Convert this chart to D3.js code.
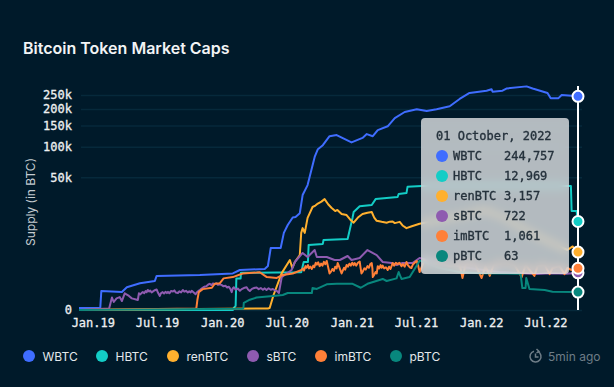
<!DOCTYPE html>
<html>
<head>
<meta charset="utf-8">
<script src="https://cdn.jsdelivr.net/npm/d3@7"></script>
<style>
  html, body { margin: 0; padding: 0; background: #001a2a; overflow: hidden; }
  .content { position: relative; width: 614px; height: 387px; }
  svg { position: absolute; left: 0; top: 0; }
  .card {
    position: absolute; left: 421px; top: 118px; width: 148px; height: 156px;
    border-radius: 4px; background: rgba(255,255,255,0.7);
    backdrop-filter: blur(5px);
    font-family: "DejaVu Sans Mono", monospace; font-size: 12px; color: #25323c;
    -webkit-text-stroke: 0.35px #25323c;
  }
  .card div { position: absolute; white-space: pre; line-height: 14px; }
  .card .dot { width: 12px; height: 12px; border-radius: 50%; }
</style>
</head>
<body>
<div class="content"></div>
<script>
// [days since 1 Jan 2019, supply in BTC]
var wbtc = [[-39,.05],[21,.05],[24,77],[82,65],[96,140],[133,240],[175,315],[180,540],[302,590],[395,680],[415,920],[485,1000],[494,1260],[502,3960],[530,3960],[539,8200],[550,11350],[564,15000],[572,15300],[584,17500],[592,31000],[606,40900],[626,80500],[635,95000],[649,103000],[668,123000],[688,125800],[730,109000],[761,119000],[773,128000],[790,123000],[804,138000],[832,148000],[852,171000],[880,190000],[914,199000],[942,193000],[970,199000],[1007,209000],[1035,235000],[1063,258000],[1111,267000],[1125,273000],[1128,263000],[1156,267000],[1167,276000],[1224,285000],[1241,276000],[1283,258000],[1292,238000],[1314,238000],[1323,250000],[1369,244757]]
var hbtc = [[-39,0],[395,0],[398,.05],[403,.5],[405,420],[417,420],[418,720],[588,750],[595,1686],[607,1686],[609,4630],[649,4900],[651,5930],[719,6200],[733,15000],[736,18200],[753,22000],[787,22900],[798,27500],[860,29300],[863,32000],[885,32800],[888,39000],[928,39900],[1349,39900],[1351,18800],[1365,18800],[1369,12969]]
var renbtc = [[-39,0],[494,.02],[499,.04],[510,35],[533,700],[556,1933],[563,1083],[570,1686],[584,2650],[588,8200],[592,10000],[598,8200],[606,14800],[620,21500],[628,22500],[635,24000],[645,25500],[654,27500],[664,23500],[674,20800],[684,18800],[690,19500],[702,17000],[716,16400],[726,14000],[736,12400],[748,15000],[761,17000],[775,17800],[787,18200],[794,15000],[801,13300],[815,12800],[829,12400],[838,12900],[846,13000],[852,12200],[866,12800],[875,11000],[885,10000],[900,10800],[922,11900],[978,13700],[1049,16400],[1105,19500],[1162,14800],[1232,8510],[1289,5390],[1339,3550],[1354,4300],[1369,3157]]
var sbtc = [[-39,0],[46,.02],[54,19],[59,4.3],[67,15],[76,21],[82,6.2],[90,50],[102,28],[110,15],[127,9],[130,50],[134,40],[138,55],[141,63],[145,50],[149,75],[152,62],[155,91],[159,70],[162,82],[166,60],[170,72],[175,88],[180,100],[184,55],[189,28],[192,50],[197,63],[201,48],[205,66],[209,52],[212,66],[216,50],[221,78],[226,70],[230,85],[234,58],[240,53],[244,72],[249,60],[254,91],[258,68],[263,80],[268,58],[272,72],[276,60],[279,80],[284,60],[290,41],[294,62],[298,78],[302,91],[307,115],[312,140],[317,155],[321,165],[326,205],[330,225],[335,190],[339,235],[344,215],[348,240],[353,195],[358,210],[364,190],[369,160],[374,175],[379,135],[384,150],[388,110],[392,63],[395,120],[398,140],[403,95],[409,115],[415,80],[420,105],[426,125],[434,140],[438,100],[443,77],[449,110],[455,125],[462,135],[468,105],[474,125],[480,95],[485,118],[490,90],[496,120],[502,95],[508,108],[514,85],[520,75],[525,53],[533,480],[541,590],[561,920],[570,1686],[592,3000],[606,2350],[626,3550],[632,2350],[660,2350],[682,1933],[697,1933],[719,2500],[730,1933],[753,2200],[775,3550],[801,2650],[818,1686],[843,1570],[857,1362],[874,1570],[902,1570],[922,2200],[978,1570],[1063,1083],[1148,773],[1252,640],[1289,700],[1337,660],[1369,722]]
var imbtc = [[-39,0],[292,.02],[295,9],[299,63],[310,105],[336,130],[344,225],[358,240],[369,420],[395,480],[423,680],[462,740],[471,760],[491,480],[519,440],[536,590],[564,680],[589,920],[593,1050],[596,880],[600,1250],[603,1100],[607,1350],[610,1050],[614,1200],[618,1000],[622,1300],[625,1150],[629,1600],[632,1400],[636,1650],[640,1250],[644,1500],[648,1300],[652,1700],[656,1450],[660,1810],[663,1300],[666,900],[668,680],[672,800],[676,1000],[680,850],[684,1200],[688,1050],[691,1570],[695,1200],[698,950],[702,680],[705,850],[709,1100],[712,950],[716,1362],[720,1200],[724,1500],[728,1300],[732,1600],[736,1350],[739,1570],[743,1300],[748,1600],[753,1750],[755,1200],[758,680],[762,820],[766,1050],[770,950],[775,1250],[779,1100],[783,1450],[787,1570],[789,1000],[790,480],[794,600],[798,780],[801,680],[804,1250],[808,1050],[812,1350],[815,1100],[818,1300],[822,1050],[827,1150],[832,920],[836,1200],[840,1000],[846,1570],[850,1300],[855,1600],[860,1450],[865,1600],[871,1250],[875,1450],[880,1200],[885,1686],[889,1350],[894,1150],[899,1083],[903,1400],[908,1600],[914,1810],[918,1300],[922,773],[936,1933],[950,1450],[978,1570],[1007,1250],[1035,1450],[1043,437],[1052,1450],[1077,1570],[1097,437],[1108,1250],[1120,540],[1131,1362],[1162,1570],[1190,1362],[1210,480],[1221,1362],[1246,540],[1255,1250],[1275,1362],[1289,640],[1297,1083],[1317,1250],[1331,640],[1339,1083],[1351,920],[1369,1061]]
var pbtc = [[-39,0],[423,.01],[425,.04],[426,3],[443,10],[462,19],[508,28],[536,35],[550,53],[618,53],[620,125],[632,108],[660,210],[688,225],[733,225],[756,130],[775,225],[818,395],[829,315],[857,420],[863,773],[871,395],[894,480],[908,1000],[922,1850],[936,1686],[978,1083],[1035,773],[1092,700],[1207,660],[1212,125],[1221,125],[1223,437],[1232,108],[1275,91],[1297,68],[1365,63],[1369,63]]

var names = ["WBTC", "HBTC", "renBTC", "sBTC", "imBTC", "pBTC"]
var colors = ["#3f6dff", "#13cdc6", "#ffb02e", "#8e5bb0", "#ff8038", "#08877d"]
var seriesData = [wbtc, hbtc, renbtc, sbtc, imbtc, pbtc]
var lastValues = ["244,757", "12,969", "3,157", "722", "1,061", "63"]

var yTicks = [0, 50000, 100000, 150000, 200000, 250000]
var yLabels = ["0", "50k", "100k", "150k", "200k", "250k"]
var xTickDays = ["2019-01-01", "2019-07-01", "2020-01-01", "2020-07-01", "2021-01-01", "2021-07-01", "2022-01-01", "2022-07-01"]
var legendX = [29, 102, 173, 253, 321, 396]

var width = 614
var height = 387
var mono = '"DejaVu Sans Mono", monospace'
var sans = 'Inter, sans-serif'

var start = new Date(2019, 0, 1)
function toDate(day) {
    return d3.timeDay.offset(start, day)
}

var x = d3.scaleTime()
    .domain([toDate(-39), toDate(1369)])
    .range([79, 578])

var y = d3.scalePow()
    .exponent(0.3)
    .domain([0, 250000])
    .range([310, 95])

var svg = d3.select(".content")
    .append("svg")
    .attr("width", width)
    .attr("height", height)

svg.append("text")
    .attr("x", 23)
    .attr("y", 54)
    .attr("fill", "#f2f4f5")
    .style("font", "600 16px " + sans)
    .text("Bitcoin Token Market Caps")

svg.append("text")
    .attr("transform", "translate(35,202) rotate(-90)")
    .attr("text-anchor", "middle")
    .attr("fill", "#c4cbd0")
    .style("font", "12px " + sans)
    .text("Supply (in BTC)")

var yAxis = svg.append("g")
    .attr("transform", "translate(81,0)")
    .call(d3.axisLeft(y)
        .tickValues(yTicks)
        .tickSize(-501)
        .tickPadding(9)
        .tickFormat(function(d, i) { return yLabels[i] }))
yAxis.select(".domain").remove()
yAxis.selectAll("line")
    .attr("stroke", "#06293b")
    .attr("stroke-width", 1.5)
yAxis.selectAll("text")
    .attr("fill", "#eef0f1")
    .attr("stroke", "#eef0f1")
    .attr("stroke-width", 0.3)
    .style("font", "12px " + mono)

var xAxis = svg.append("g")
    .attr("transform", "translate(0,310)")
    .call(d3.axisBottom(x)
        .tickValues(xTickDays.map(function(d) { return d3.timeParse("%Y-%m-%d")(d) }))
        .tickSize(0)
        .tickPadding(8)
        .tickFormat(d3.timeFormat("%b.%y")))
xAxis.select(".domain").remove()
xAxis.selectAll("text")
    .attr("fill", "#eef0f1")
    .attr("stroke", "#eef0f1")
    .attr("stroke-width", 0.3)
    .style("font", "12px " + mono)

var line = d3.line()
    .x(function(d) { return x(toDate(d[0])) })
    .y(function(d) { return y(d[1]) })

svg.append("g")
    .selectAll("path")
    .data(seriesData)
    .enter()
    .append("path")
    .attr("fill", "none")
    .attr("stroke", function(d, i) { return colors[i] })
    .attr("stroke-width", 2)
    .attr("stroke-linejoin", "round")
    .attr("d", line)

// hover line and end markers
svg.append("line")
    .attr("x1", x(toDate(1369)))
    .attr("x2", x(toDate(1369)))
    .attr("y1", 86)
    .attr("y2", 310)
    .attr("stroke", "#fff")
    .attr("stroke-width", 2)

svg.append("g")
    .selectAll("circle")
    .data(seriesData)
    .enter()
    .append("circle")
    .attr("cx", function(d) { return x(toDate(d[d.length - 1][0])) })
    .attr("cy", function(d) { return y(d[d.length - 1][1]) })
    .attr("r", 5.5)
    .attr("fill", function(d, i) { return colors[i] })
    .attr("stroke", "#fff")
    .attr("stroke-width", 2)

// legend
var legend = svg.append("g")
    .selectAll("g")
    .data(names)
    .enter()
    .append("g")
    .attr("transform", function(d, i) { return "translate(" + legendX[i] + ",356)" })
legend.append("circle")
    .attr("r", 6)
    .attr("fill", function(d, i) { return colors[i] })
legend.append("text")
    .attr("x", 13.5)
    .attr("y", 4.5)
    .attr("fill", "#e4e8ea")
    .style("font", "12px " + sans)
    .text(function(d) { return d })

// refresh icon and age
var icon = svg.append("g")
    .attr("transform", "translate(535.5,356.5)")
    .attr("fill", "none")
    .attr("stroke", "#6e7d87")
    .attr("stroke-width", 1.5)
icon.append("path")
    .attr("d", d3.arc()({ innerRadius: 5.5, outerRadius: 5.5, startAngle: 0.4, endAngle: 6.0 }))
icon.append("path")
    .attr("d", "M0,-3V0.5H3")
icon.append("path")
    .attr("d", "M1,-7.5L3.5,-5.2L1,-3.5")

svg.append("text")
    .attr("x", 548)
    .attr("y", 360.5)
    .attr("fill", "#6e7d87")
    .style("font", "12px " + sans)
    .text("5min ago")

// tooltip card
var card = d3.select(".content").append("div").attr("class", "card")
card.append("div")
    .style("left", "15px")
    .style("top", "11px")
    .text("01 October, 2022")
names.forEach(function(name, i) {
    var top = 31 + i * 20
    card.append("div")
        .attr("class", "dot")
        .style("left", "15px")
        .style("top", top + 0.5 + "px")
        .style("background", colors[i])
    card.append("div")
        .style("left", "32px")
        .style("top", top + "px")
        .text(name)
    card.append("div")
        .style("left", "83px")
        .style("top", top + "px")
        .text(lastValues[i])
})
</script>
</body>
</html>
